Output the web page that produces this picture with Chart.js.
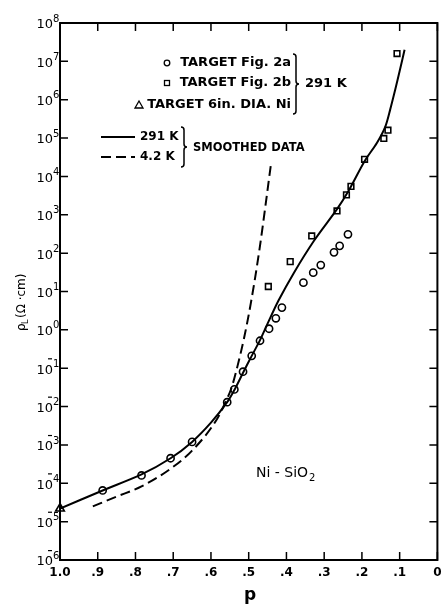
<!DOCTYPE html>
<html>
<head>
<meta charset="utf-8">
<script src="https://cdn.jsdelivr.net/npm/chart.js@4/dist/chart.umd.min.js"></script>
<style>
    html, body { margin: 0; background: #fff; }
    #wrap { width: 444px; height: 607px; }
</style>
</head>
<body>
<div id="wrap"><canvas id="chart"></canvas></div>
<script>
// TARGET Fig. 2a (circles)
const fig2aP = [0.887, 0.784, 0.707, 0.650, 0.557, 0.538, 0.515, 0.492, 0.470, 0.446, 0.428, 0.412, 0.355, 0.329, 0.309, 0.274, 0.259, 0.237];
const fig2aRho = [6.5e-5, 1.6e-4, 4.5e-4, 1.2e-3, 1.3e-2, 2.8e-2, 8.1e-2, 0.21, 0.52, 1.07, 2.0, 3.8, 17, 31, 49, 105, 155, 310];

// TARGET Fig. 2b (squares)
const fig2bP = [0.448, 0.390, 0.333, 0.266, 0.241, 0.229, 0.193, 0.142, 0.131, 0.107];
const fig2bRho = [13.5, 60, 280, 1260, 3300, 5500, 28000, 98000, 1.6e5, 1.6e7];

// TARGET 6in. DIA. Ni (triangle)
const diaP = [1.0];
const diaRho = [2.2e-5];

// smoothed data, 291 K
const smooth291P = [1.0, 0.887, 0.784, 0.707, 0.65, 0.60, 0.557, 0.538, 0.515, 0.492, 0.47, 0.45, 0.421, 0.38, 0.327, 0.266, 0.235, 0.193, 0.16, 0.138, 0.125, 0.112, 0.1, 0.087];
const smooth291Rho = [2.2e-5, 6.5e-5, 1.7e-4, 4.5e-4, 1.2e-3, 3.8e-3, 1.3e-2, 2.7e-2, 7.6e-2, 0.21, 0.54, 1.45, 5.8, 31, 210, 1400, 4300, 25000, 76000, 2.0e5, 5.6e5, 1.8e6, 5.6e6, 2.0e7];

// smoothed data, 4.2 K
const smooth42P = [0.913, 0.85, 0.784, 0.707, 0.65, 0.583, 0.56, 0.545, 0.53, 0.512, 0.494, 0.472, 0.441];
const smooth42Rho = [2.5e-5, 4.5e-5, 8.3e-5, 2.4e-4, 7.1e-4, 4.9e-3, 1.4e-2, 3.2e-2, 0.11, 0.63, 5.2, 115, 21000];

const xTicks = [1.0, 0.9, 0.8, 0.7, 0.6, 0.5, 0.4, 0.3, 0.2, 0.1, 0];
const xTickLabels = ['1.0', '.9', '.8', '.7', '.6', '.5', '.4', '.3', '.2', '.1', '0'];
const yExponents = [8, 7, 6, 5, 4, 3, 2, 1, 0, -1, -2, -3, -4, -5, -6];

const toPoints = (xs, ys) => xs.map((x, i) => ({x: x, y: ys[i]}));
const FONT = '"DejaVu Sans", sans-serif';

function brace(ctx, x, y1, y2, w) {
    const ym = (y1 + y2) / 2;
    ctx.beginPath();
    ctx.moveTo(x - w, y1);
    ctx.quadraticCurveTo(x, y1, x, y1 + w);
    ctx.lineTo(x, ym - w);
    ctx.quadraticCurveTo(x, ym, x + w, ym);
    ctx.quadraticCurveTo(x, ym, x, ym + w);
    ctx.lineTo(x, y2 - w);
    ctx.quadraticCurveTo(x, y2, x - w, y2);
    ctx.stroke();
}

const framePlugin = {
    id: 'frame',
    afterDraw(chart) {
        const ctx = chart.ctx;
        const a = chart.chartArea;
        const xs = chart.scales.x;
        const ys = chart.scales.y;
        ctx.save();
        ctx.strokeStyle = '#000';
        ctx.fillStyle = '#000';
        ctx.lineWidth = 2;
        ctx.strokeRect(a.left, a.top, a.right - a.left, a.bottom - a.top);

        // ticks pointing inwards
        ctx.lineWidth = 1.5;
        xTicks.forEach((v, i) => {
            const px = xs.getPixelForValue(v);
            ctx.beginPath();
            ctx.moveTo(px, a.bottom); ctx.lineTo(px, a.bottom - 8);
            ctx.moveTo(px, a.top); ctx.lineTo(px, a.top + 8);
            ctx.stroke();
            ctx.font = 'bold 12px ' + FONT;
            ctx.textAlign = 'center';
            ctx.textBaseline = 'middle';
            ctx.fillText(xTickLabels[i], px, a.bottom + 13);
        });
        yExponents.forEach(e => {
            const py = ys.getPixelForValue(Math.pow(10, e));
            ctx.beginPath();
            ctx.moveTo(a.left, py); ctx.lineTo(a.left + 8, py);
            ctx.moveTo(a.right, py); ctx.lineTo(a.right - 8, py);
            ctx.stroke();
            ctx.font = '13px ' + FONT;
            ctx.textAlign = 'right';
            ctx.textBaseline = 'middle';
            ctx.fillText('10', a.left - 7, py + 2);
            ctx.font = '10px ' + FONT;
            ctx.textAlign = 'left';
            ctx.fillText(String(Math.abs(e)), a.left - 7, py - 4);
            if (e < 0) {
                ctx.fillRect(a.left - 12, py - 10, 4, 1.2);
            }
        });

        // axis titles
        ctx.font = 'bold 17px ' + FONT;
        ctx.textAlign = 'center';
        ctx.textBaseline = 'middle';
        ctx.fillText('p', 250, 596);

        ctx.save();
        ctx.translate(22, 295);
        ctx.rotate(-Math.PI / 2);
        ctx.textAlign = 'left';
        ctx.font = '12px ' + FONT;
        ctx.fillText('\u03C1', -36, 0);
        ctx.font = '8px ' + FONT;
        ctx.fillText('L', -29, 4);
        ctx.font = '12px ' + FONT;
        ctx.fillText('(\u03A9 \u00B7cm)', -23, 0);
        ctx.restore();

        // legend block
        ctx.font = 'bold 13px ' + FONT;
        ctx.textAlign = 'right';
        ctx.lineWidth = 1.3;
        ctx.beginPath();
        ctx.arc(167, 63, 2.8, 0, Math.PI * 2);
        ctx.stroke();
        ctx.fillText('TARGET Fig. 2a', 291, 63);
        ctx.strokeRect(164.5, 80.5, 5, 5);
        ctx.fillText('TARGET Fig. 2b', 291, 83);
        ctx.beginPath();
        ctx.moveTo(139, 101); ctx.lineTo(143, 108); ctx.lineTo(135, 108); ctx.closePath();
        ctx.stroke();
        ctx.fillText('TARGET 6in. DIA. Ni', 291, 105);
        ctx.lineWidth = 1.5;
        brace(ctx, 296, 54, 114, 3);
        ctx.textAlign = 'left';
        ctx.fillText('291 K', 305, 84);

        ctx.lineWidth = 2;
        ctx.beginPath();
        ctx.moveTo(101, 137); ctx.lineTo(135, 137);
        ctx.stroke();
        ctx.setLineDash([10, 5]);
        ctx.beginPath();
        ctx.moveTo(101, 157); ctx.lineTo(135, 157);
        ctx.stroke();
        ctx.setLineDash([]);
        ctx.font = 'bold 12px ' + FONT;
        ctx.fillText('291 K', 140, 137);
        ctx.fillText('4.2 K', 140, 157);
        ctx.lineWidth = 1.5;
        brace(ctx, 184, 127, 167, 3);
        ctx.font = 'bold 11.5px ' + FONT;
        ctx.fillText('SMOOTHED DATA', 193, 148);

        ctx.font = '14px ' + FONT;
        ctx.fillText('Ni - SiO', 256, 473);
        const w = ctx.measureText('Ni - SiO').width;
        ctx.font = '10px ' + FONT;
        ctx.fillText('2', 257 + w, 478);
        ctx.restore();
    }
};

new Chart(document.getElementById('chart'), {
    type: 'scatter',
    data: {
        datasets: [
            {
                label: '291 K',
                type: 'line',
                data: toPoints(smooth291P, smooth291Rho),
                borderColor: '#000',
                borderWidth: 2,
                pointRadius: 0,
                tension: 0.3,
                fill: false
            },
            {
                label: '4.2 K',
                type: 'line',
                data: toPoints(smooth42P, smooth42Rho),
                borderColor: '#000',
                borderWidth: 2,
                borderDash: [10, 5],
                pointRadius: 0,
                cubicInterpolationMode: 'monotone',
                fill: false
            },
            {
                label: 'TARGET Fig. 2a',
                data: toPoints(fig2aP, fig2aRho),
                pointStyle: 'circle',
                pointRadius: 3.6,
                pointBorderWidth: 1.6,
                pointBorderColor: '#000',
                pointBackgroundColor: '#fff'
            },
            {
                label: 'TARGET Fig. 2b',
                data: toPoints(fig2bP, fig2bRho),
                pointStyle: 'rect',
                pointRadius: 4,
                pointBorderWidth: 1.6,
                pointBorderColor: '#000',
                pointBackgroundColor: '#fff'
            },
            {
                label: 'TARGET 6in. DIA. Ni',
                data: toPoints(diaP, diaRho),
                pointStyle: 'triangle',
                pointRadius: 5,
                pointBorderWidth: 1.6,
                pointBorderColor: '#000',
                pointBackgroundColor: '#fff',
                clip: false
            }
        ]
    },
    options: {
        responsive: true,
        maintainAspectRatio: false,
        animation: false,
        devicePixelRatio: 1,
        layout: {padding: {left: 60, right: 6, top: 23, bottom: 47}},
        plugins: {legend: {display: false}, tooltip: {enabled: false}},
        scales: {
            x: {type: 'linear', min: 0, max: 1, reverse: true, display: false},
            y: {type: 'logarithmic', min: 1e-6, max: 1e8, display: false}
        }
    },
    plugins: [framePlugin]
});
</script>
</body>
</html>
